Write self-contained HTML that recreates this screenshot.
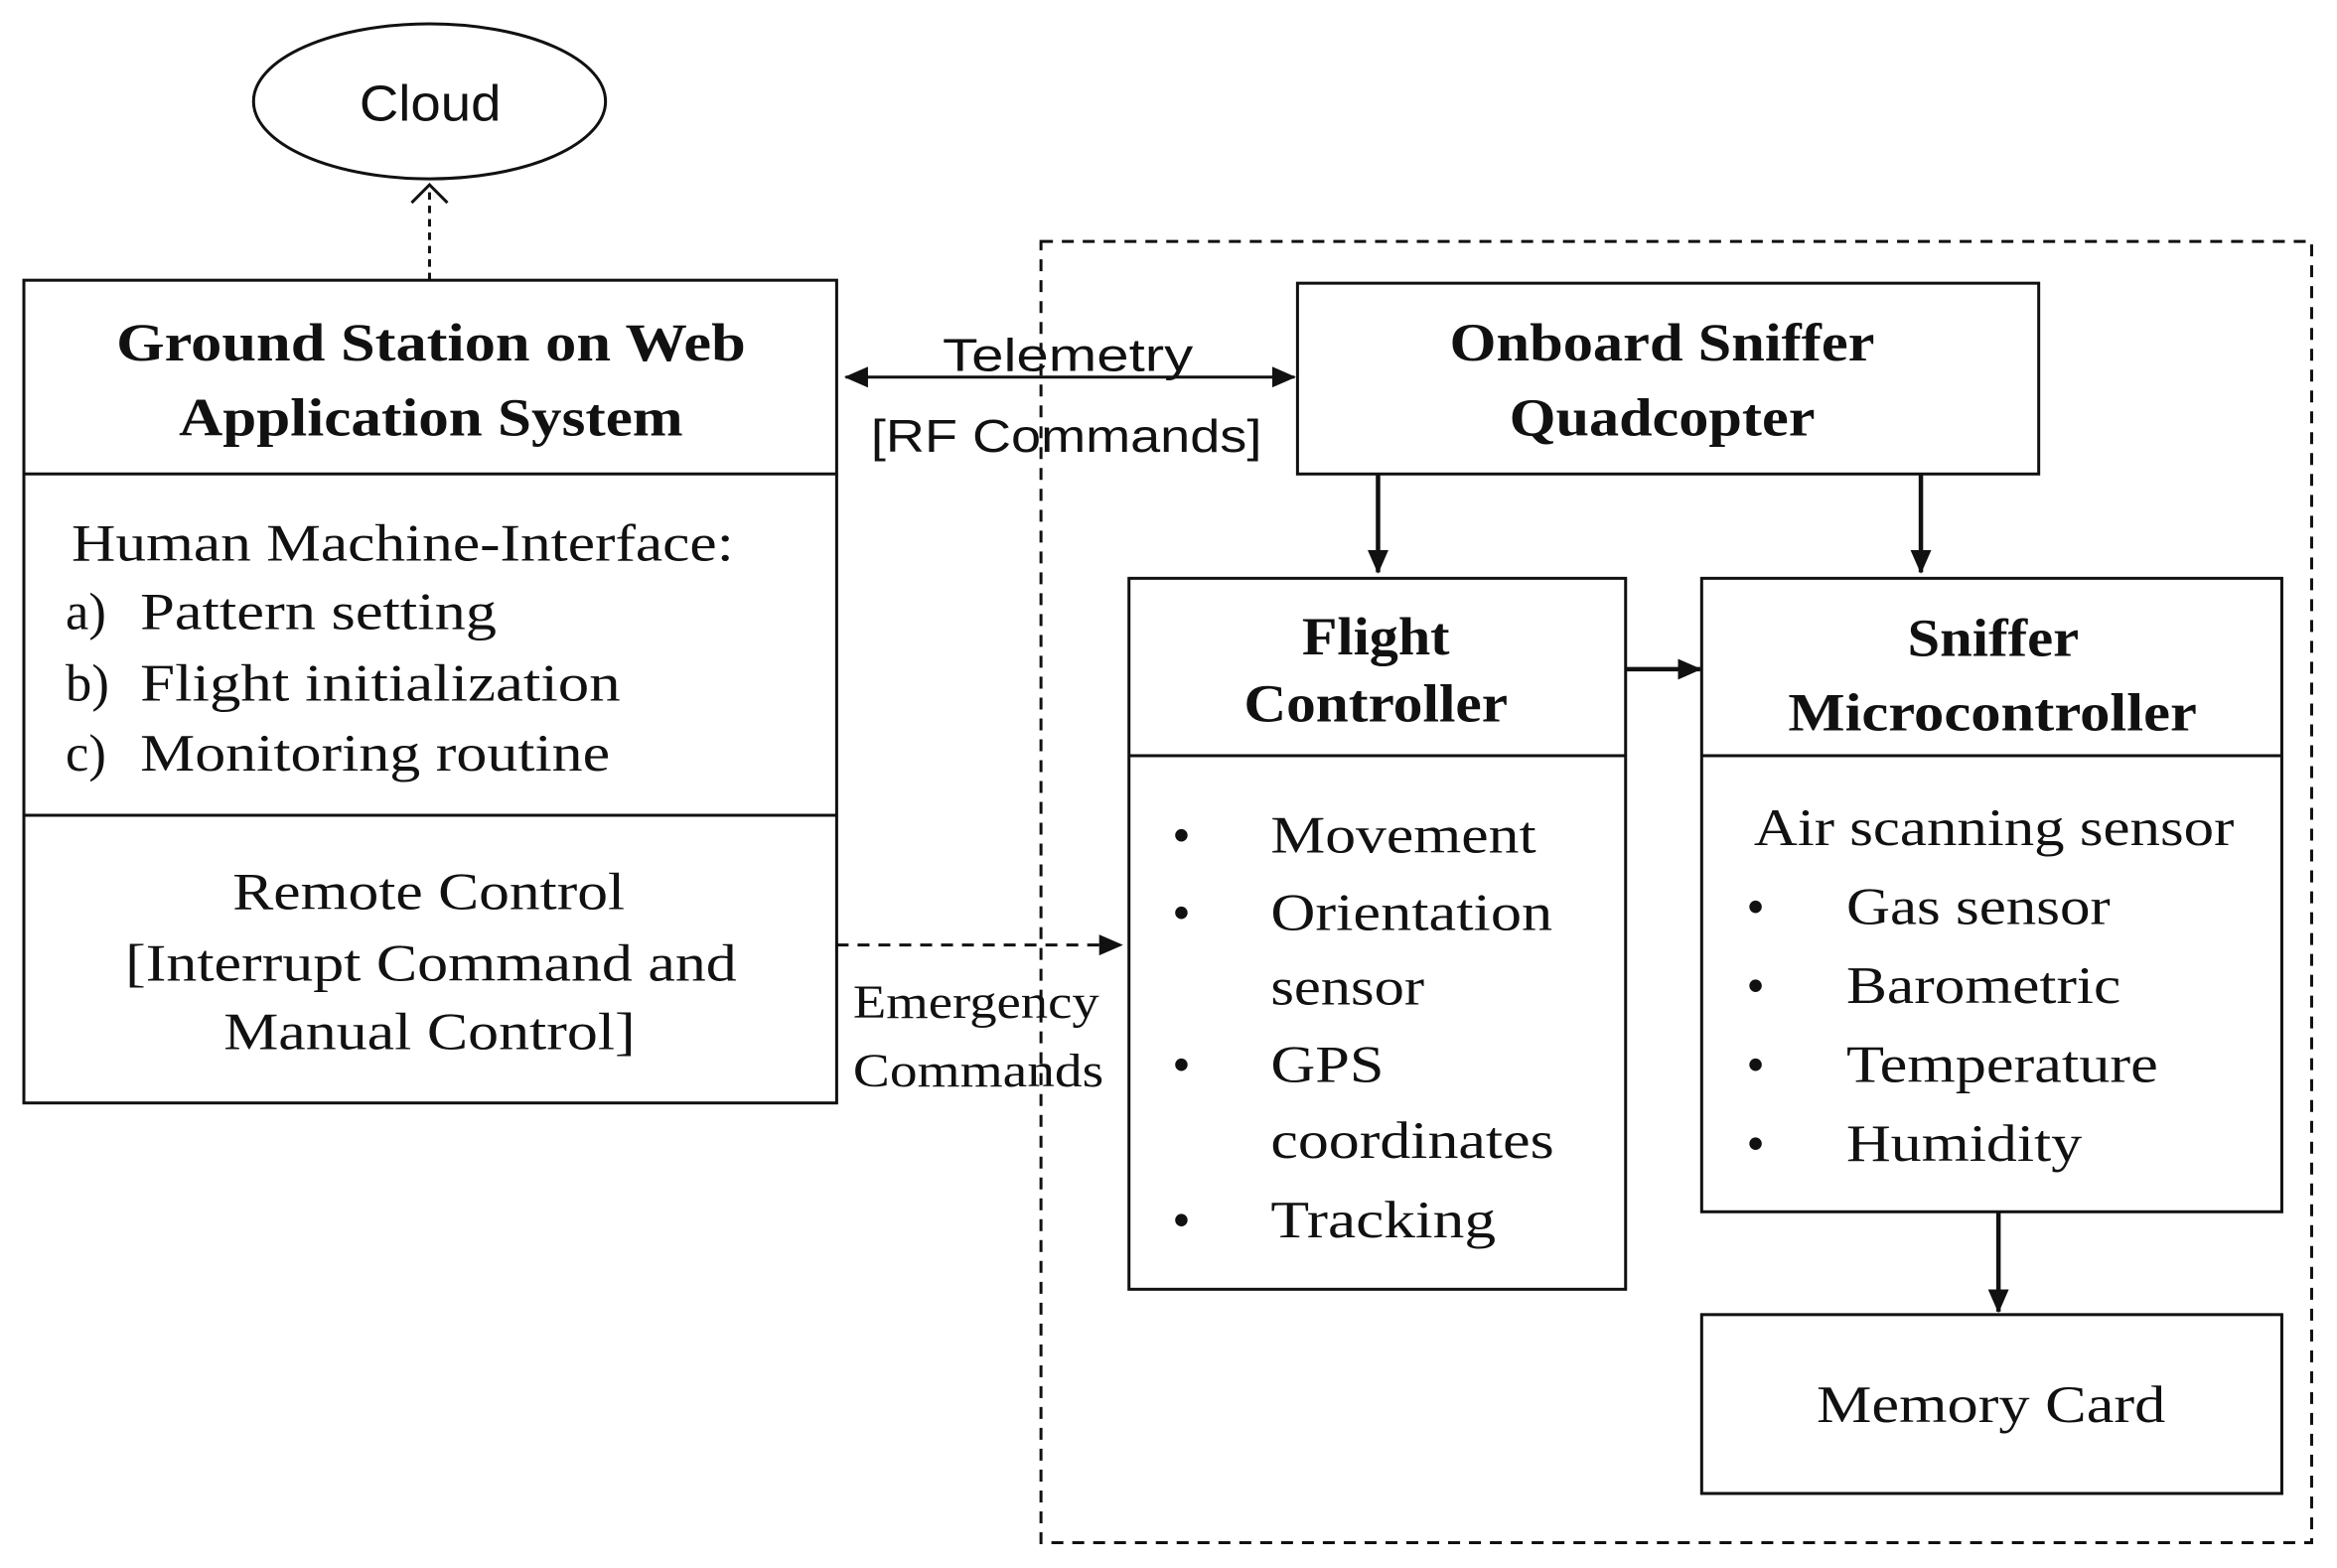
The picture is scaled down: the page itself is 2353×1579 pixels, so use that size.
<!DOCTYPE html>
<html><head><meta charset="utf-8"><style>
html,body{margin:0;padding:0;background:#fff;}
svg{display:block;}
.s{font-family:"Liberation Serif",serif;fill:#111;}
.a{font-family:"Liberation Sans",sans-serif;fill:#111;}
.b{font-weight:bold;}
</style></head><body>
<svg width="2353" height="1579" viewBox="0 0 1567 1052" preserveAspectRatio="none" xmlns="http://www.w3.org/2000/svg">
<defs>
<marker id="ah2" markerWidth="16" markerHeight="16" refX="15" refY="8" orient="auto-start-reverse" markerUnits="userSpaceOnUse" viewBox="0 0 16 16">
<path d="M0,1 L16,8 L0,15 z" fill="#111"/></marker>
</defs>
<g fill="none" stroke="#111" stroke-width="2">
<ellipse cx="288" cy="68" rx="118" ry="52"/>
<line x1="288" y1="188" x2="288" y2="124" stroke-dasharray="5,4"/>
<polyline points="276,136 288,124 300,136"/>
<rect x="16" y="188" width="545" height="552"/>
<line x1="16" y1="318" x2="561" y2="318"/>
<line x1="16" y1="547" x2="561" y2="547"/>
<rect x="698" y="162" width="852" height="873" stroke-dasharray="8,6"/>
<rect x="870" y="190" width="497" height="128"/>
<rect x="757" y="388" width="333" height="477"/>
<line x1="757" y1="507" x2="1090" y2="507"/>
<rect x="1141" y="388" width="389" height="425"/>
<line x1="1141" y1="507" x2="1530" y2="507"/>
<rect x="1141" y="882" width="389" height="120"/>
<line x1="567" y1="253" x2="868" y2="253" marker-start="url(#ah2)" marker-end="url(#ah2)"/>
<line x1="924" y1="318" x2="924" y2="384" stroke-width="3" marker-end="url(#ah2)"/>
<line x1="1288" y1="318" x2="1288" y2="384" stroke-width="3" marker-end="url(#ah2)"/>
<line x1="1090" y1="449" x2="1140" y2="449" stroke-width="3" marker-end="url(#ah2)"/>
<line x1="1340" y1="813" x2="1340" y2="880" stroke-width="3" marker-end="url(#ah2)"/>
<line x1="561" y1="634" x2="752" y2="634" stroke-dasharray="8,6" marker-end="url(#ah2)"/>
</g>
<text x="241" y="81" class="a" font-size="34" textLength="95" lengthAdjust="spacingAndGlyphs">Cloud</text>
<text x="78" y="242" class="s b" font-size="36" textLength="422" lengthAdjust="spacingAndGlyphs">Ground  Station  on  Web</text>
<text x="120" y="292" class="s b" font-size="36" textLength="338" lengthAdjust="spacingAndGlyphs">Application  System</text>
<text x="48" y="376" class="s" font-size="35" textLength="444" lengthAdjust="spacingAndGlyphs">Human Machine-Interface:</text>
<text x="44" y="422" class="s" font-size="35">a)</text><text x="94" y="422" class="s" font-size="35" textLength="239" lengthAdjust="spacingAndGlyphs">Pattern setting</text>
<text x="44" y="470" class="s" font-size="35">b)</text><text x="94" y="470" class="s" font-size="35" textLength="322" lengthAdjust="spacingAndGlyphs">Flight initialization</text>
<text x="44" y="517" class="s" font-size="35">c)</text><text x="94" y="517" class="s" font-size="35" textLength="315" lengthAdjust="spacingAndGlyphs">Monitoring routine</text>
<text x="156" y="610" class="s" font-size="35" textLength="263" lengthAdjust="spacingAndGlyphs">Remote Control</text>
<text x="84" y="658" class="s" font-size="35" textLength="410" lengthAdjust="spacingAndGlyphs">[Interrupt Command and</text>
<text x="150" y="704" class="s" font-size="35" textLength="276" lengthAdjust="spacingAndGlyphs">Manual Control]</text>
<text x="632" y="249" class="a" font-size="31" textLength="168" lengthAdjust="spacingAndGlyphs">Telemetry</text>
<text x="584" y="303" class="a" font-size="31" textLength="262" lengthAdjust="spacingAndGlyphs">[RF Commands]</text>
<text x="972" y="242" class="s b" font-size="36" textLength="285" lengthAdjust="spacingAndGlyphs">Onboard  Sniffer</text>
<text x="1012" y="292" class="s b" font-size="36" textLength="205" lengthAdjust="spacingAndGlyphs">Quadcopter</text>
<text x="873" y="439" class="s b" font-size="36" textLength="99" lengthAdjust="spacingAndGlyphs">Flight</text>
<text x="834" y="484" class="s b" font-size="36" textLength="177" lengthAdjust="spacingAndGlyphs">Controller</text>
<g class="s" font-size="35">
<text x="786" y="572">•</text><text x="852" y="572" textLength="178" lengthAdjust="spacingAndGlyphs">Movement</text>
<text x="786" y="624">•</text><text x="852" y="624" textLength="189" lengthAdjust="spacingAndGlyphs">Orientation</text>
<text x="852" y="674" textLength="103" lengthAdjust="spacingAndGlyphs">sensor</text>
<text x="786" y="726">•</text><text x="852" y="726" textLength="76" lengthAdjust="spacingAndGlyphs">GPS</text>
<text x="852" y="777" textLength="190" lengthAdjust="spacingAndGlyphs">coordinates</text>
<text x="786" y="830">•</text><text x="852" y="830" textLength="151" lengthAdjust="spacingAndGlyphs">Tracking</text>
</g>
<text x="1279" y="440" class="s b" font-size="36" textLength="115" lengthAdjust="spacingAndGlyphs">Sniffer</text>
<text x="1199" y="490" class="s b" font-size="36" textLength="274" lengthAdjust="spacingAndGlyphs">Microcontroller</text>
<g class="s" font-size="35">
<text x="1176" y="567" textLength="322" lengthAdjust="spacingAndGlyphs">Air scanning sensor</text>
<text x="1171" y="620">•</text><text x="1238" y="620" textLength="177" lengthAdjust="spacingAndGlyphs">Gas sensor</text>
<text x="1171" y="673">•</text><text x="1238" y="673" textLength="184" lengthAdjust="spacingAndGlyphs">Barometric</text>
<text x="1171" y="726">•</text><text x="1238" y="726" textLength="209" lengthAdjust="spacingAndGlyphs">Temperature</text>
<text x="1171" y="779">•</text><text x="1238" y="779" textLength="158" lengthAdjust="spacingAndGlyphs">Humidity</text>
<text x="1218" y="954" textLength="234" lengthAdjust="spacingAndGlyphs">Memory Card</text>
<text x="572" y="683" font-size="32" textLength="165" lengthAdjust="spacingAndGlyphs">Emergency</text>
<text x="572" y="729" font-size="32" textLength="168" lengthAdjust="spacingAndGlyphs">Commands</text>
</g>
</svg>
</body></html>
